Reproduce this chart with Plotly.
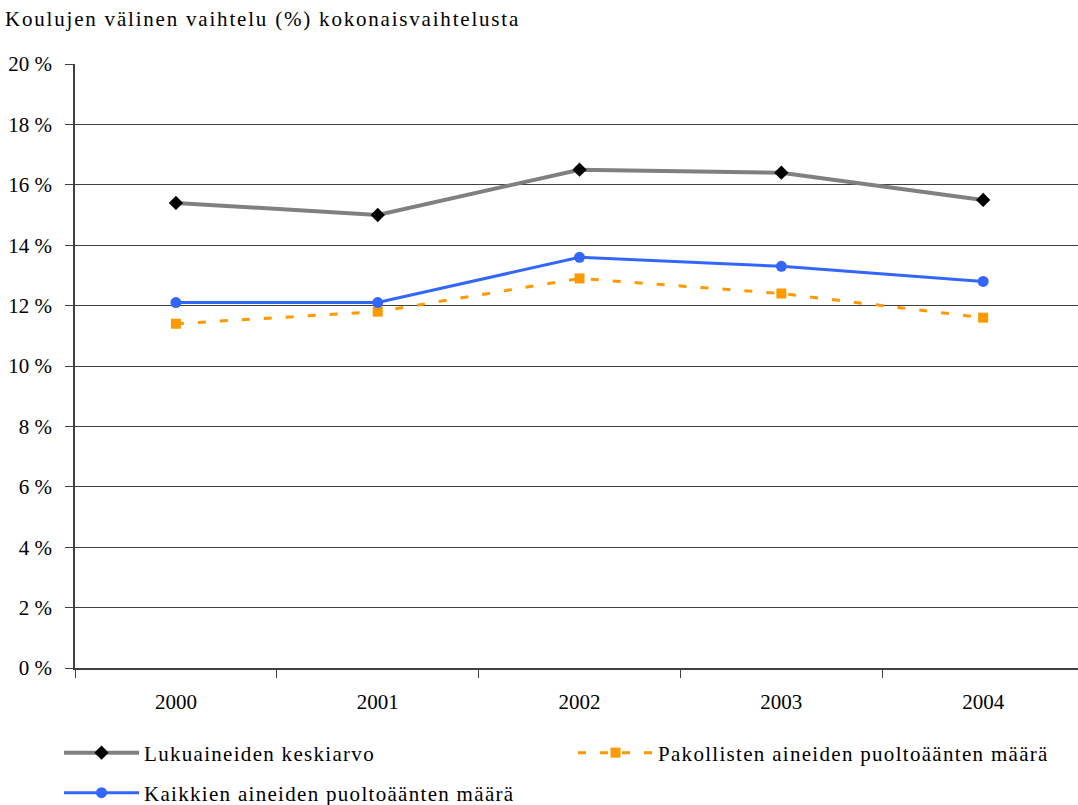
import plotly.graph_objects as go

years = ["2000", "2001", "2002", "2003", "2004"]
lukuaineet = [15.4, 15.0, 16.5, 16.4, 15.5]
pakolliset = [11.4, 11.8, 12.9, 12.4, 11.6]
kaikki = [12.1, 12.1, 13.6, 13.3, 12.8]
y_ticks = [0, 2, 4, 6, 8, 10, 12, 14, 16, 18, 20]

FONT = "Liberation Serif, Times New Roman, serif"
W, H = 1078, 805

fig = go.Figure()
fig.add_trace(go.Scatter(
    x=years, y=lukuaineet, name="Lukuaineiden keskiarvo", mode="lines+markers",
    line=dict(color="#808080", width=4),
    marker=dict(symbol="diamond", size=11, color="#000000"),
    legend="legend",
))
fig.add_trace(go.Scatter(
    x=years, y=pakolliset, name="Pakollisten aineiden puoltoäänten määrä", mode="lines+markers",
    line=dict(color="#FF9900", width=3, dash="8px,14px"),
    marker=dict(symbol="square", size=10, color="#FF9900"),
    legend="legend2",
))
fig.add_trace(go.Scatter(
    x=years, y=kaikki, name="Kaikkien aineiden puoltoäänten määrä", mode="lines+markers",
    line=dict(color="#3366FF", width=3),
    marker=dict(symbol="circle", size=11, color="#3366FF"),
    legend="legend3",
))


def legend_box(px, py):
    return dict(
        xref="container", yref="container",
        x=px / W, xanchor="left", y=1 - py / H, yanchor="middle",
        itemwidth=75, bgcolor="rgba(0,0,0,0)",
        font=dict(family=FONT, size=21, color="#000000"),
    )


fig.update_layout(
    width=W, height=H,
    margin=dict(l=75, r=0, t=64, b=137, autoexpand=False),
    paper_bgcolor="white", plot_bgcolor="white",
    font=dict(family=FONT, size=21, color="#000000"),
    title=dict(text="Koulujen välinen vaihtelu (%) kokonaisvaihtelusta",
               x=5 / W, xanchor="left", xref="container",
               y=1 - 19 / H, yanchor="middle", yref="container",
               font=dict(family=FONT, size=21, color="#000000")),
    showlegend=True,
    legend=legend_box(59, 753),
    legend2=legend_box(573, 753),
    legend3=legend_box(59, 793),
)

fig.update_xaxes(
    type="category", range=[-0.5, 4.47], tickson="boundaries",
    ticks="outside", ticklen=8, tickcolor="#404040", tickwidth=1,
    ticklabelstandoff=14, tickangle=0,
    showline=True, linecolor="#404040", linewidth=1.5,
    showgrid=False, zeroline=False,
    tickfont=dict(family=FONT, size=21, color="#000000"),
)
fig.update_yaxes(
    range=[0, 20], tickvals=y_ticks, ticktext=[f"{v} %" for v in y_ticks],
    ticks="outside", ticklen=8, tickcolor="#404040", tickwidth=1,
    ticklabelstandoff=9,
    showline=True, linecolor="#404040", linewidth=1.5,
    showgrid=True, gridcolor="#404040", gridwidth=1,
    zeroline=False,
    tickfont=dict(family=FONT, size=21, color="#000000"),
)

# wider character spacing for the title and legend labels
spacing_js = """
var st = document.createElement('style');
st.textContent = '.gtitle{letter-spacing:1.8px;} '
  + '.infolayer g[class^="legend"] text{letter-spacing:1.3px;} '
  + '.infolayer g[class^="legend"] *{clip-path:none !important;}';
document.head.appendChild(st);
"""

fig.write_html("out.html", post_script=spacing_js)
